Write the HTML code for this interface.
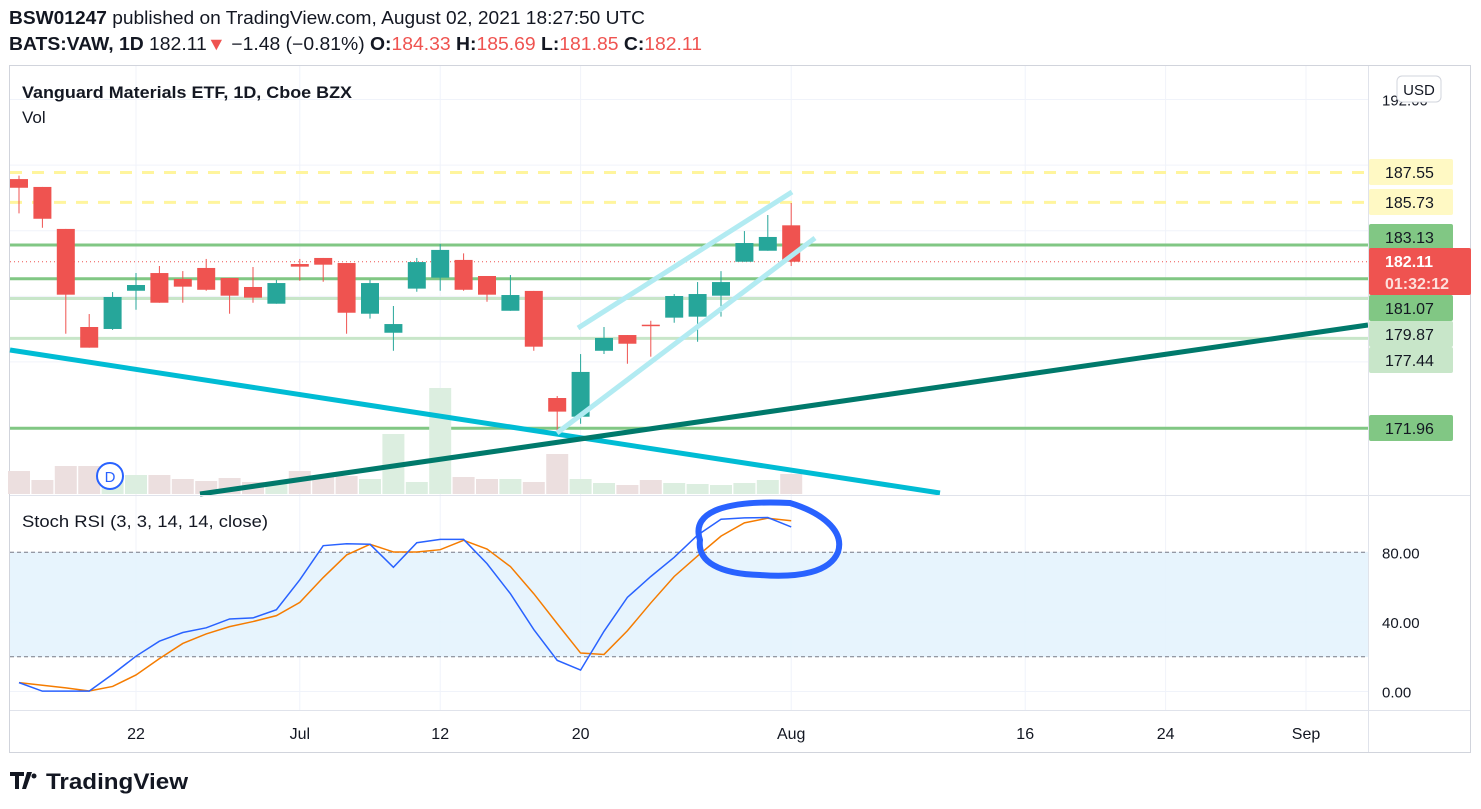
<!DOCTYPE html>
<html><head><meta charset="utf-8"><style>
html,body{margin:0;padding:0;background:#fff;}
svg{display:block;font-family:"Liberation Sans",sans-serif;}
</style></head><body>
<svg id="chart" width="1481" height="809" viewBox="0 0 1481 809" xmlns="http://www.w3.org/2000/svg">
<text x="9" y="24" font-size="18" fill="#131722" textLength="636" lengthAdjust="spacingAndGlyphs"><tspan font-weight="bold">BSW01247</tspan> published on TradingView.com, August 02, 2021 18:27:50 UTC</text>
<text x="9" y="50" font-size="18" fill="#131722" textLength="693" lengthAdjust="spacingAndGlyphs"><tspan font-weight="bold">BATS:VAW, 1D</tspan> 182.11<tspan fill="#ef5350">▼</tspan> −1.48 (−0.81%) <tspan font-weight="bold">O:</tspan><tspan fill="#ef5350">184.33</tspan> <tspan font-weight="bold">H:</tspan><tspan fill="#ef5350">185.69</tspan> <tspan font-weight="bold">L:</tspan><tspan fill="#ef5350">181.85</tspan> <tspan font-weight="bold">C:</tspan><tspan fill="#ef5350">182.11</tspan></text>
<rect x="9.5" y="65.5" width="1461" height="687" fill="#fff" stroke="#d1d4dc"/>
<g id="grid"></g>
<rect x="10" y="552" width="1358" height="105" fill="#e3f2fd" opacity="0.85"/>
<g id="hlines"></g>
<g id="volume"></g>
<g id="candles"></g>
<g id="drawings"></g>
<g id="stoch"></g>
<line x1="10" y1="495.5" x2="1470" y2="495.5" stroke="#e0e3eb"/>
<line x1="10" y1="710.5" x2="1470" y2="710.5" stroke="#e0e3eb"/>
<line x1="1368.5" y1="66" x2="1368.5" y2="752" stroke="#e0e3eb"/>
<g id="axis"></g>
<text x="22" y="98" font-size="17" font-weight="bold" fill="#131722" textLength="330" lengthAdjust="spacingAndGlyphs">Vanguard Materials ETF, 1D, Cboe BZX</text>
<text x="22" y="123" font-size="17" fill="#131722">Vol</text>
<text x="22" y="527" font-size="17" fill="#131722" textLength="246" lengthAdjust="spacingAndGlyphs">Stoch RSI (3, 3, 14, 14, close)</text>
<g><circle cx="110" cy="476" r="13" fill="#fff" stroke="#2962ff" stroke-width="2"/><text x="110" y="482" font-size="15" text-anchor="middle" fill="#2962ff">D</text></g>
<path d="M700,540 C690,510 730,500 790,503 C820,512 845,530 838,552 C830,572 800,578 760,575 C720,574 697,562 700,540" fill="none" stroke="#2962ff" stroke-width="6" stroke-linecap="round"/>
<rect x="1397" y="76" width="44" height="26" rx="5" fill="#fff" stroke="#d1d4dc"/>
<text x="1419" y="95" font-size="15" text-anchor="middle" fill="#131722">USD</text>
<g><text x="10" y="790" font-size="22" font-weight="bold" fill="#131722">᠎</text><path d="M10,772 h14 v4 h-5 v13 h-4 v-13 h-5z M27,772 h5 l-6,17 h-4z" fill="#131722"/><circle cx="34" cy="776" r="2.5" fill="#131722"/><text x="46" y="789" font-size="22" font-weight="bold" fill="#131722" textLength="142" lengthAdjust="spacingAndGlyphs">TradingView</text></g>
<script>
const NS="http://www.w3.org/2000/svg";
const opens=[187.15,186.67,184.11,178.13,178.01,180.34,181.42,181.06,181.73,181.12,180.57,179.55,181.97,182.34,182.03,178.94,177.78,180.47,181.14,182.22,181.24,179.12,180.33,173.80,172.66,176.68,177.64,178.27,178.70,178.76,180.04,182.11,182.78,184.33];
const highs=[187.36,186.67,184.11,178.92,180.26,181.42,181.85,181.54,182.28,181.12,181.79,181.00,182.28,182.34,182.03,181.00,179.41,182.34,183.19,182.62,181.24,181.30,180.33,173.92,176.48,178.13,177.64,178.51,180.14,180.87,181.54,183.98,184.96,185.69];
const lows=[185.06,184.18,177.72,176.87,177.95,179.18,179.61,179.61,180.34,178.94,179.61,179.55,180.95,180.89,177.72,178.64,176.68,180.28,180.34,180.34,179.67,179.12,176.68,171.65,172.23,176.48,175.89,176.32,178.39,177.23,178.76,182.11,182.78,181.85];
const closes=[186.62,184.73,180.10,176.87,179.96,180.69,179.61,180.59,180.40,180.04,179.92,180.81,181.81,181.93,179.00,180.81,178.31,182.09,182.83,180.40,180.10,180.08,176.93,172.97,175.39,177.46,177.11,178.21,180.02,180.14,180.87,183.25,183.62,182.11];
const volumes=[23,14,28,28,19,19,19,15,13,16,12,12,23,18,18,15,60,12,106,17,15,15,12,40,15,11,9,14,11,10,9,11,14,20];
const stochK=[5.1,0.2,0.2,0.2,9.9,20.3,28.9,33.9,36.6,41.7,42.3,47.0,64.2,83.8,84.9,84.6,71.4,85.5,87.4,87.4,73.5,56.2,35.6,17.9,12.3,34.6,54.1,66.1,77.1,89.9,99.0,99.8,100,94.6];
const stochD=[5.1,3.6,2.1,0.3,2.9,9.5,18.9,27.6,33.1,37.3,40.2,43.6,51.2,65.5,78.5,84.6,80.2,80.2,81.5,86.9,81.9,71.8,56.2,39.0,22.1,21.3,34.9,50.9,66.1,77.9,89.3,96.9,99.6,98.1];
const priceLevels=[183.13,181.07,179.87,177.44,171.96];
const levelStrong=[true,true,false,false,true];
const dashedLevels=[187.55,185.73];
const priceGrid=[192,188,184,180,176,172];
const stochTicks=[80,40,0];
const timeLabels=["22","Jul","12","20","Aug","16","24","Sep"];
const timeIndex=[5,12,18,24,33,43,49,55];

const X=i=>19+i*23.4;
const Y=p=>245-(p-183.13)*16.4;
const VY=v=>494-v;
const SY=v=>691.5-v*1.74;
function mk(tag,attrs,parent){const e=document.createElementNS(NS,tag);for(const k in attrs)e.setAttribute(k,attrs[k]);document.getElementById(parent).appendChild(e);return e;}

// grid
priceGrid.forEach(p=>{const e=mk('line',{x1:10,x2:1368,y1:Y(p),y2:Y(p),stroke:'#f0f3fa'},'grid');

});
timeIndex.forEach(i=>{const e=mk('line',{x1:X(i),x2:X(i),y1:66,y2:710,stroke:'#f0f3fa'},'grid');

});
stochTicks.forEach(v=>{const e=mk('line',{x1:10,x2:1368,y1:SY(v),y2:SY(v),stroke:'#f0f3fa'},'grid');

});
[80,20].forEach(v=>{const e=mk('line',{x1:10,x2:1368,y1:SY(v),y2:SY(v),stroke:'#787b86','stroke-dasharray':'4 3'},'stoch');

});

// horizontal levels
dashedLevels.forEach(p=>{const e=mk('line',{x1:10,x2:1368,y1:Y(p),y2:Y(p),stroke:'#fff59d','stroke-width':3,'stroke-dasharray':'12 10'},'hlines');

});
priceLevels.forEach((p,i)=>{const e=mk('line',{x1:10,x2:1368,y1:Y(p),y2:Y(p),stroke:levelStrong[i]?'#81c784':'#c8e6c9','stroke-width':3},'hlines');

});
{const e=mk('line',{x1:10,x2:1368,y1:Y(closes[closes.length-1]),y2:Y(closes[closes.length-1]),stroke:'#ef5350','stroke-dasharray':'1 3'},'hlines');

}

// volume
volumes.forEach((v,i)=>{const up=closes[i]>=opens[i];const e=mk('rect',{x:X(i)-11,y:VY(v),width:22,height:v,fill:up?'#dceee0':'#ecdfdf'},'volume');

});

// candles
opens.forEach((o,i)=>{const c=closes[i];const up=c>=o;const col=up?'#26a69a':'#ef5350';
const w=mk('line',{x1:X(i),x2:X(i),y1:Y(highs[i]),y2:Y(lows[i]),stroke:col,'stroke-width':1},'candles');


const t=Y(Math.max(o,c)),b=Y(Math.min(o,c));
const r=mk('rect',{x:X(i)-9,y:t,width:18,height:Math.max(1.5,b-t),fill:col},'candles');

});

// trend drawings
[[10,350,940,493,'#00bcd4','downtrend-line'],[200,494,1368,325,'#00796b','uptrend-line'],[578,328,792,192,'#b2ebf2','channel-upper'],[557,433,815,238,'#b2ebf2','channel-lower']].forEach(d=>{
const e=mk('line',{x1:d[0],y1:d[1],x2:d[2],y2:d[3],stroke:d[4],'stroke-width':5},'drawings');

});

// stoch lines
function poly(arr,col,name){const pts=arr.map((v,i)=>X(i)+','+SY(v)).join(' ');
const e=mk('polyline',{points:pts,fill:'none',stroke:col,'stroke-width':1.5},'stoch');

}
poly(stochD,'#f57c00','stoch-d-line');
poly(stochK,'#2962ff','stoch-k-line');

// axis labels
{const e=mk('text',{x:1382,y:Y(192)+6,'font-size':15,fill:'#131722'},'axis');e.textContent='192.00';

}
const tags=[[187.55,'#fff9c4','#131722'],[185.73,'#fff9c4','#131722'],[183.13,'#81c784','#131722'],[181.07,'#81c784','#131722'],[179.87,'#c8e6c9','#131722'],[177.44,'#c8e6c9','#131722'],[171.96,'#81c784','#131722']];
const tagY={187.55:172,185.73:202,183.13:237,181.07:308,179.87:334,177.44:360,171.96:428};
tags.forEach(t=>{const cy=tagY[t[0]];
const r=mk('rect',{x:1369,y:cy-13,width:84,height:26,rx:2,fill:t[1]},'axis');


const tx=mk('text',{x:1385,y:cy+6,'font-size':16,fill:t[2]},'axis');tx.textContent=t[0].toFixed(2);

});
{const r=mk('rect',{x:1369,y:248,width:102,height:47,rx:2,fill:'#ef5350'},'axis');


const a=mk('text',{x:1385,y:267,'font-size':16,'font-weight':'bold',fill:'#fff'},'axis');a.textContent=closes[closes.length-1].toFixed(2);


const b=mk('text',{x:1385,y:289,'font-size':16,'font-weight':'bold',fill:'#fde0dc'},'axis');b.textContent='01:32:12';

}
stochTicks.forEach(v=>{const e=mk('text',{x:1382,y:SY(v)+6,'font-size':15,fill:'#131722'},'axis');e.textContent=v.toFixed(2);

});
timeLabels.forEach((l,i)=>{const e=mk('text',{x:X(timeIndex[i]),y:739,'font-size':16,'text-anchor':'middle',fill:'#131722'},'axis');e.textContent=l;

});
</script>
</svg>
</body></html>
